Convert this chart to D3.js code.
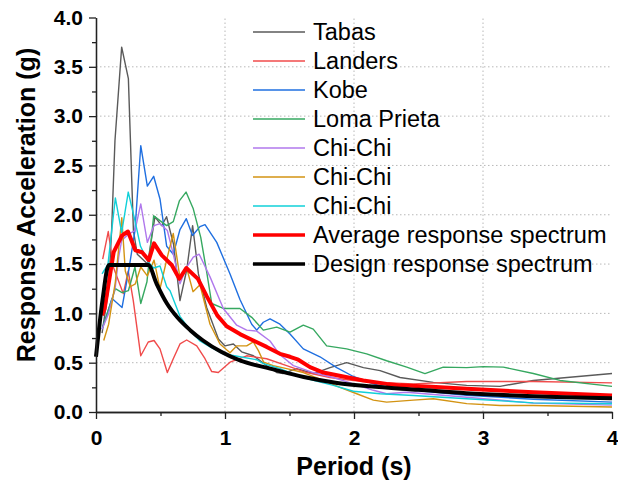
<!DOCTYPE html>
<html>
<head>
<meta charset="utf-8">
<script src="https://cdn.jsdelivr.net/npm/d3@7"></script>
<style>
body { margin: 0; background: #fff; }
svg { display: block; font-family: "Liberation Sans", Arial, sans-serif; }
</style>
</head>
<body>
<main></main>
<script>
// Спектры: пары [период (с), ускорение (g)].
var tabas = [[0.047,0.80],[0.098,1.25],[0.121,1.84],[0.147,2.75],[0.199,3.70],[0.251,3.38],[0.290,1.84],[0.32,1.60],[0.40,1.50],
	[0.457,1.98],[0.509,1.89],[0.547,1.98],[0.601,1.70],[0.651,1.13],[0.703,1.44],[0.749,1.89],[0.794,1.40],[0.858,1.06],
	[0.949,0.74],[1.0,0.67],[1.065,0.69],[1.129,0.61],[1.22,0.57],[1.323,0.47],[1.40,0.40],[1.45,0.39],[1.555,0.44],
	[1.685,0.39],[1.814,0.45],[1.943,0.50],[2.073,0.45],[2.202,0.42],[2.357,0.35],[2.615,0.30],[2.873,0.27],[3.132,0.26],
	[3.39,0.32],[4.0,0.39]];
var landers = [[0.052,1.55],[0.095,1.83],[0.134,1.47],[0.212,1.20],[0.250,1.43],[0.289,1.13],[0.347,0.57],[0.405,0.71],
	[0.450,0.725],[0.496,0.64],[0.553,0.40],[0.599,0.54],[0.651,0.69],[0.703,0.73],[0.781,0.67],[0.845,0.54],[0.897,0.41],
	[0.948,0.40],[1.039,0.505],[1.168,0.57],[1.323,0.54],[1.478,0.47],[1.633,0.40],[1.814,0.35],[1.995,0.32],[2.202,0.30],
	[2.460,0.285],[2.873,0.31],[3.39,0.31],[4.0,0.295]];
var kobe = [[0.047,0.84],[0.124,1.15],[0.202,1.06],[0.253,1.43],[0.302,1.84],[0.347,2.70],[0.398,2.29],[0.447,2.39],
	[0.496,2.16],[0.548,1.68],[0.599,1.60],[0.651,1.85],[0.700,1.96],[0.748,1.79],[0.806,1.88],[0.845,1.90],[0.936,1.72],
	[1.039,1.40],[1.116,1.14],[1.207,0.89],[1.246,0.83],[1.297,0.91],[1.349,0.945],[1.426,0.89],[1.504,0.79],[1.607,0.64],
	[1.736,0.56],[1.866,0.45],[1.995,0.36],[2.150,0.285],[2.305,0.235],[2.460,0.22],[2.873,0.17],[3.39,0.13],[4.0,0.10]];
var loma_prieta = [[0.052,0.86],[0.10,1.05],[0.15,1.25],[0.202,1.21],[0.251,1.23],[0.302,1.47],[0.347,1.10],[0.395,1.32],
	[0.447,1.99],[0.496,1.94],[0.548,1.89],[0.599,1.93],[0.646,2.14],[0.698,2.23],[0.754,2.06],[0.812,1.77],[0.858,1.42],
	[0.897,1.10],[0.987,1.05],[1.116,1.05],[1.207,0.96],[1.297,0.83],[1.401,0.86],[1.504,0.81],[1.607,0.88],[1.684,0.84],
	[1.788,0.67],[1.943,0.64],[2.098,0.59],[2.253,0.52],[2.409,0.455],[2.55,0.39],[2.692,0.455],[2.874,0.45],[3.002,0.46],
	[3.157,0.455],[3.39,0.39],[3.597,0.32],[4.0,0.26]];
var chichi_1 = [[0.047,0.84],[0.098,1.0],[0.150,1.27],[0.176,1.57],[0.199,1.74],[0.25,1.80],[0.302,1.84],[0.347,2.11],
	[0.398,1.72],[0.450,1.89],[0.496,1.91],[0.553,1.84],[0.599,1.60],[0.651,1.30],[0.703,1.47],[0.754,1.57],[0.800,1.60],
	[0.884,1.37],[0.987,1.05],[1.091,0.88],[1.168,0.83],[1.246,0.82],[1.349,0.72],[1.426,0.58],[1.530,0.47],[1.684,0.40],
	[1.840,0.35],[1.995,0.285],[2.150,0.22],[2.253,0.185],[2.409,0.20],[2.873,0.15],[3.39,0.09],[4.0,0.07]];
var chichi_2 = [[0.060,0.725],[0.098,0.89],[0.150,1.32],[0.200,1.97],[0.227,1.43],[0.266,1.27],[0.305,1.30],[0.347,1.47],
	[0.398,1.38],[0.450,1.54],[0.496,1.25],[0.553,1.57],[0.599,1.81],[0.651,1.36],[0.703,1.46],[0.752,1.22],[0.806,1.29],
	[0.884,0.89],[0.961,0.69],[1.039,0.60],[1.09,0.67],[1.168,0.67],[1.22,0.71],[1.26,0.62],[1.30,0.505],[1.374,0.47],
	[1.478,0.44],[1.607,0.40],[1.762,0.32],[1.891,0.25],[2.021,0.185],[2.150,0.12],[2.253,0.10],[2.460,0.12],[2.615,0.135],
	[2.874,0.085],[3.132,0.066],[3.39,0.066],[4.0,0.05]];
var chichi_3 = [[0.047,1.40],[0.093,1.50],[0.150,2.17],[0.199,1.82],[0.250,2.23],[0.302,1.94],[0.345,1.68],[0.405,1.52],
	[0.447,1.46],[0.496,1.48],[0.548,1.27],[0.574,1.23],[0.651,0.97],[0.729,0.83],[0.806,0.72],[0.884,0.66],[0.987,0.59],
	[1.116,0.56],[1.246,0.53],[1.297,0.49],[1.426,0.44],[1.556,0.37],[1.684,0.32],[1.840,0.27],[1.995,0.21],[2.202,0.185],
	[2.460,0.167],[2.874,0.135],[3.39,0.093],[4.0,0.083]];
var average = [[0.047,0.98],[0.067,1.05],[0.137,1.62],[0.202,1.79],[0.248,1.83],[0.305,1.64],[0.357,1.62],[0.409,1.54],
	[0.450,1.71],[0.509,1.59],[0.587,1.49],[0.646,1.35],[0.700,1.46],[0.79,1.35],[0.86,1.17],[0.94,0.98],[1.013,0.87],
	[1.116,0.79],[1.219,0.725],[1.323,0.66],[1.426,0.59],[1.504,0.56],[1.568,0.53],[1.659,0.455],[1.762,0.40],[1.917,0.36],
	[2.072,0.32],[2.253,0.285],[2.36,0.27],[2.6,0.255],[2.874,0.235],[3.39,0.20],[4.0,0.167]];
var design = [[0,0.56],[0.05,1.13],[0.1,1.49],[0.405,1.49],[0.47,1.30],[0.55,1.10],[0.63,0.96],[0.73,0.83],[0.83,0.725],
	[0.97,0.61],[1.12,0.52],[1.35,0.44],[1.61,0.355],[1.87,0.295],[2.12,0.26],[2.5,0.225],[2.87,0.19],[3.39,0.16],[4.0,0.14]];

var series_names = ["Tabas", "Landers", "Kobe", "Loma Prieta", "Chi-Chi", "Chi-Chi", "Chi-Chi",
	"Average response spectrum", "Design response spectrum"];
var series_data = [tabas, landers, kobe, loma_prieta, chichi_1, chichi_2, chichi_3, average, design];
var series_colors = ["#5a5a5a", "#f04b4b", "#1f6fe0", "#36a860", "#b078ec", "#d39312", "#10d0d8", "#ff0000", "#000000"];

var y_ticks = [0, 0.5, 1, 1.5, 2, 2.5, 3, 3.5, 4];
var y_minor = [0.25, 0.75, 1.25, 1.75, 2.25, 2.75, 3.25, 3.75];
var x_ticks = [0, 1, 2, 3, 4];
var x_minor = [0.5, 1.5, 2.5, 3.5];

var svg = d3.select("main").append("svg")
			.attr("width", 618)
			.attr("height", 488);

var x_scale = d3.scaleLinear().domain([0, 4]).range([96, 612]);
var y_scale = d3.scaleLinear().domain([0, 4]).range([412, 17.5]);

// Сетка пунктиром
svg.append("g").selectAll("line")
	.data(y_ticks.filter(function(d) { return d > 0 && d < 4; }))
	.enter().append("line")
	.attr("x1", x_scale(0)).attr("x2", x_scale(4))
	.attr("y1", function(d) { return y_scale(d); })
	.attr("y2", function(d) { return y_scale(d); })
	.attr("stroke", "#b8b8b8").attr("stroke-width", 1).attr("stroke-dasharray", "1.5,2.5");
svg.append("g").selectAll("line")
	.data(x_ticks.filter(function(d) { return d > 0 && d < 4; }))
	.enter().append("line")
	.attr("y1", y_scale(0)).attr("y2", y_scale(4))
	.attr("x1", function(d) { return x_scale(d); })
	.attr("x2", function(d) { return x_scale(d); })
	.attr("stroke", "#b8b8b8").attr("stroke-width", 1).attr("stroke-dasharray", "1.5,2.5");

var line = d3.line()
			.x(function(d) { return x_scale(d[0]); })
			.y(function(d) { return y_scale(d[1]); });
var smooth_line = d3.line()
			.curve(d3.curveMonotoneX)
			.x(function(d) { return x_scale(d[0]); })
			.y(function(d) { return y_scale(d[1]); });

series_data.forEach(function(s, i) {
	var thick = i >= 7;
	svg.append("path")
		.attr("d", i == 8 ? smooth_line(s) : line(s))
		.attr("fill", "none")
		.attr("stroke", series_colors[i])
		.attr("stroke-width", thick ? 4 : 1.4)
		.attr("stroke-linejoin", "round");
});

// Оси
function style_axis(g) {
	g.select(".domain").attr("stroke", "#222").attr("stroke-width", 1.3);
	g.selectAll(".tick line").attr("stroke", "#222").attr("stroke-width", 1.3);
	g.selectAll("text").attr("font-size", "21px").attr("font-weight", "bold").attr("fill", "#000")
		.attr("font-family", "'Liberation Sans', Arial, sans-serif");
}
svg.append("g")
	.attr("transform", "translate(" + x_scale(0) + ",0)")
	.call(d3.axisLeft(y_scale).tickValues(y_minor).tickSize(4).tickSizeOuter(0).tickFormat(""))
	.call(style_axis);
svg.append("g")
	.attr("transform", "translate(" + x_scale(0) + ",0)")
	.call(d3.axisLeft(y_scale).tickValues(y_ticks).tickSize(7).tickSizeOuter(0).tickPadding(6)
		.tickFormat(d3.format(".1f")))
	.call(style_axis);
svg.append("g")
	.attr("transform", "translate(0," + y_scale(0) + ")")
	.call(d3.axisBottom(x_scale).tickValues(x_minor).tickSize(4).tickSizeOuter(0).tickFormat(""))
	.call(style_axis);
svg.append("g")
	.attr("transform", "translate(0," + y_scale(0) + ")")
	.call(d3.axisBottom(x_scale).tickValues(x_ticks).tickSize(7).tickSizeOuter(0).tickPadding(11)
		.tickFormat(d3.format("d")))
	.call(style_axis);

svg.append("text")
	.attr("transform", "translate(35,205) rotate(-90)")
	.attr("text-anchor", "middle")
	.attr("font-size", "25px").attr("font-weight", "bold")
	.text("Response Acceleration (g)");
svg.append("text")
	.attr("x", 354).attr("y", 475)
	.attr("text-anchor", "middle")
	.attr("font-size", "25px").attr("font-weight", "bold")
	.text("Period (s)");

// Легенда
var legend = svg.append("g").selectAll("g")
	.data(series_names)
	.enter().append("g")
	.attr("transform", function(d, i) { return "translate(0," + (32 + i * 29) + ")"; });
legend.append("line")
	.attr("x1", 253).attr("x2", 305)
	.attr("stroke", function(d, i) { return series_colors[i]; })
	.attr("stroke-width", function(d, i) { return i >= 7 ? 3.5 : 1.4; });
legend.append("text")
	.attr("x", 313).attr("y", 8)
	.attr("font-size", "23.5px")
	.text(function(d) { return d; });
</script>
</body>
</html>
